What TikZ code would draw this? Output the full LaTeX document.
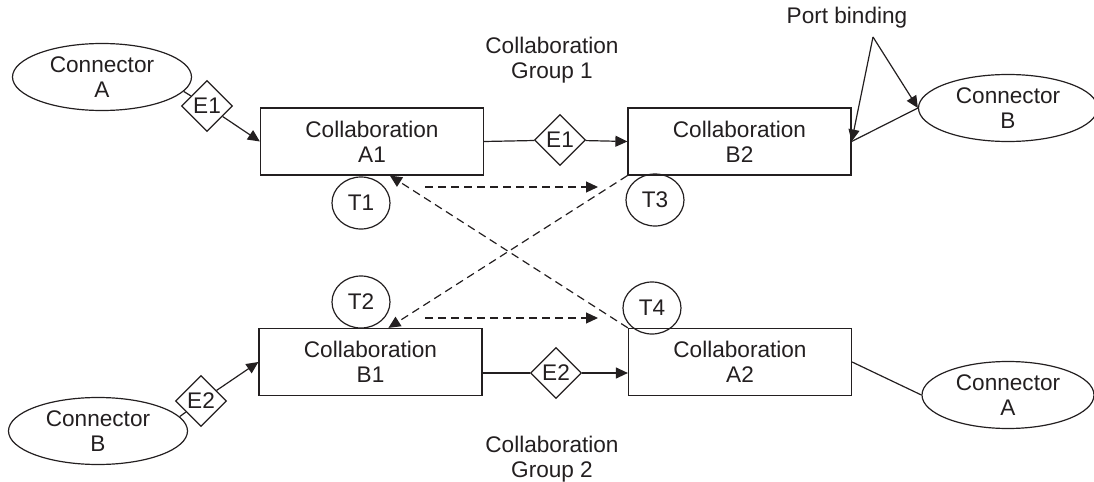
\documentclass[tikz,border=0pt]{standalone}
\usepackage{fontspec}
\setmainfont{Liberation Sans}
\usepackage{xcolor}
\usetikzlibrary{arrows.meta, shapes.geometric}

\definecolor{ink}{HTML}{231F20}

\tikzset{
    collab/.style={draw, rectangle, align=center, inner sep=0pt, minimum width=111.5pt, minimum height=33.5pt},
    connector/.style={draw, ellipse, align=center, inner sep=0pt, minimum width=89.5pt, minimum height=33.5pt},
    event/.style={draw, diamond, inner sep=0pt, minimum width=25.5pt, minimum height=25.5pt},
    timer/.style={draw, ellipse, inner sep=0pt, minimum width=29pt, minimum height=26pt},
    trigger/.style={dash pattern=on 4pt off 2.5pt, ->},
}

\begin{document}
\begin{tikzpicture}[x=0.5pt, y=-0.5pt, ink, line width=0.6pt, font=\fontsize{11.3}{12.6}\selectfont, >={Triangle[length=6pt, width=5.5pt]}]
        \useasboundingbox (0, 0) rectangle (1094, 482);

        \node[collab] (A1) at (372, 141.5) {Collaboration\\A1};
        \node[collab] (B2) at (739.5, 141.5) {Collaboration\\B2};
        \node[collab] (B1) at (370.5, 362) {Collaboration\\B1};
        \node[collab] (A2) at (740, 362) {Collaboration\\A2};

        \node[connector] (conA1) at (102, 77) {Connector\\A};
        \node[connector] (conB1) at (1008, 108) {Connector\\B};
        \node[connector] (conB2) at (98, 431) {Connector\\B};
        \node[connector, minimum width=86pt] (conA2) at (1008, 395) {Connector\\A};

        \node[event] (e1a) at (207, 106) {E1};
        \node[event] (e1b) at (560, 140) {E1};
        \node[event] (e2a) at (201, 401) {E2};
        \node[event] (e2b) at (556, 373) {E2};

        \node[timer] (T1) at (361, 203) {T1};
        \node[timer] (T3) at (655, 200) {T3};
        \node[timer] (T2) at (361, 302) {T2};
        \node[timer] (T4) at (652, 308) {T4};

        \node[align=center] (grp1) at (552, 60) {Collaboration\\Group 1};
        \node[align=center] (grp2) at (552, 459) {Collaboration\\Group 2};
        \node (port) at (847, 18) {Port binding};
        \coordinate (pbfork) at (873, 37);

        % group 1
        \draw (conA1.-10) -- (e1a);
        \draw[->] (e1a) -- (A1.west);
        \draw (A1.east) -- (e1b);
        \draw[->] (e1b) -- (B2.west);
        \draw (B2.east) -- (conB1.west);
        \draw[->] (pbfork) -- (B2.east);
        \draw[->] (pbfork) -- (conB1.west);

        % group 2
        \draw (conB2.10) -- (e2a);
        \draw[->] (e2a) -- (B1.west);
        \draw (B1.east |- e2b) -- (e2b);
        \draw[->] (e2b) -- (A2.west |- e2b);
        \draw (A2.east) -- (conA2.west);

        % timers
        \coordinate (t1s) at (425, 187);
        \coordinate (t1e) at (598, 187);
        \coordinate (t2s) at (425, 318);
        \coordinate (t2e) at (598, 318);
        \draw[trigger] (t1s) -- (t1e);
        \draw[trigger] (t2s) -- (t2e);
        \draw[trigger] (B2.south west) -- ([xshift=65pt]B1.north west);
        \draw[trigger] (A2.north west) -- ([xshift=65pt]A1.south west);
    \end{tikzpicture}
\end{document}
